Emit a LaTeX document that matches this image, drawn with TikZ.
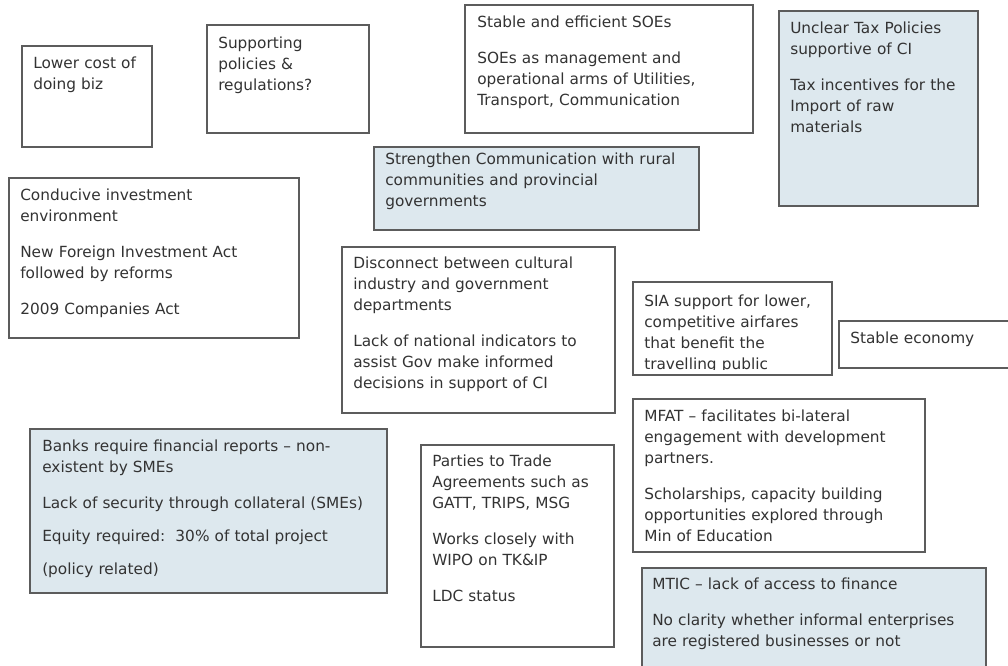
\documentclass[tikz,border=0pt]{standalone}
\usepackage{fontspec}
\setmainfont{DejaVu Sans}
\definecolor{boxline}{HTML}{5C5C5C}
\definecolor{boxblue}{HTML}{DDE8EE}
\definecolor{txt}{HTML}{333333}
\newcommand{\pg}{\\[11.25pt]}
\begin{document}
\begin{tikzpicture}[x=0.75pt,y=-0.75pt,
  cbox/.style={draw=boxline,line width=0.9pt,fill=white},
  bbox/.style={draw=boxline,line width=0.9pt,fill=boxblue},
  txtn/.style={anchor=base west,inner sep=0pt,align=left,text width=340pt,
    text=txt,font=\fontsize{11.5pt}{15.75pt}\selectfont}]
\useasboundingbox (0,0) rectangle (1008,665);
\clip (0,0) rectangle (1008,665);
\fill[white] (0,0) rectangle (1008,665);

% boxes
\path[cbox] (22,46) rectangle (152,147) coordinate (b1);
\path[cbox] (207,25) rectangle (369,133) coordinate (b2);
\path[cbox] (465,5) rectangle (753,133) coordinate (b3);
\path[bbox] (374,147) rectangle (699,230) coordinate (b4);
\path[bbox] (779,11) rectangle (978,206) coordinate (b5);
\path[cbox] (9,178) rectangle (299,338) coordinate (b6);
\path[cbox] (342,247) rectangle (615,413) coordinate (b7);
\path[cbox] (633,282) rectangle (832,375) coordinate (b8);
\path[cbox] (839,321) rectangle (1014,368) coordinate (b9);
\path[cbox] (633,399) rectangle (925,552) coordinate (b10);
\path[bbox] (642,568) rectangle (986,672) coordinate (b11);
\path[bbox] (30,429) rectangle (387,593) coordinate (b12);
\path[cbox] (421,445) rectangle (614,647) coordinate (b13);

% texts
\node[txtn] (t1) at (33,68) {Lower cost of\\doing biz};
\node[txtn] (t2) at (218,48) {Supporting\\policies \&\\regulations?};
\node[txtn] (t3) at (477,27) {Stable and efficient SOEs\pg SOEs as management and\\operational arms of Utilities,\\Transport, Communication};
\node[txtn] (t4) at (385,164) {Strengthen Communication with rural\\communities and provincial\\governments};
\node[txtn] (t5) at (790,33) {Unclear Tax Policies\\supportive of CI\pg Tax incentives for the\\Import of raw\\materials};
\node[txtn] (t6) at (20,200) {Conducive investment\\environment\pg New Foreign Investment Act\\followed by reforms\pg 2009 Companies Act};
\node[txtn] (t7) at (353,268) {Disconnect between cultural\\industry and government\\departments\pg Lack of national indicators to\\assist Gov make informed\\decisions in support of CI};
\begin{scope}
\clip (633.5,282.5) rectangle (831.5,369.5);
\node[txtn] (t8) at (644,306) {SIA support for lower,\\competitive airfares\\that benefit the\\travelling public};
\end{scope}
\node[txtn] (t9) at (850,343) {Stable economy};
\node[txtn] (t10) at (644,421) {MFAT – facilitates bi-lateral\\engagement with development\\partners.\pg Scholarships, capacity building\\opportunities explored through\\Min of Education};
\node[txtn] (t11) at (652,589) {MTIC – lack of access to finance\pg No clarity whether informal enterprises\\are registered businesses or not};
\node[txtn] (t12) at (42,451) {Banks require financial reports – non-\\existent by SMEs\pg Lack of security through collateral (SMEs)\\[9pt]Equity required:\ \ 30\% of total project\\[9pt](policy related)};
\node[txtn] (t13) at (432,466) {Parties to Trade\\Agreements such as\\GATT, TRIPS, MSG\pg Works closely with\\WIPO on TK\&IP\pg LDC status};
\end{tikzpicture}
\end{document}
